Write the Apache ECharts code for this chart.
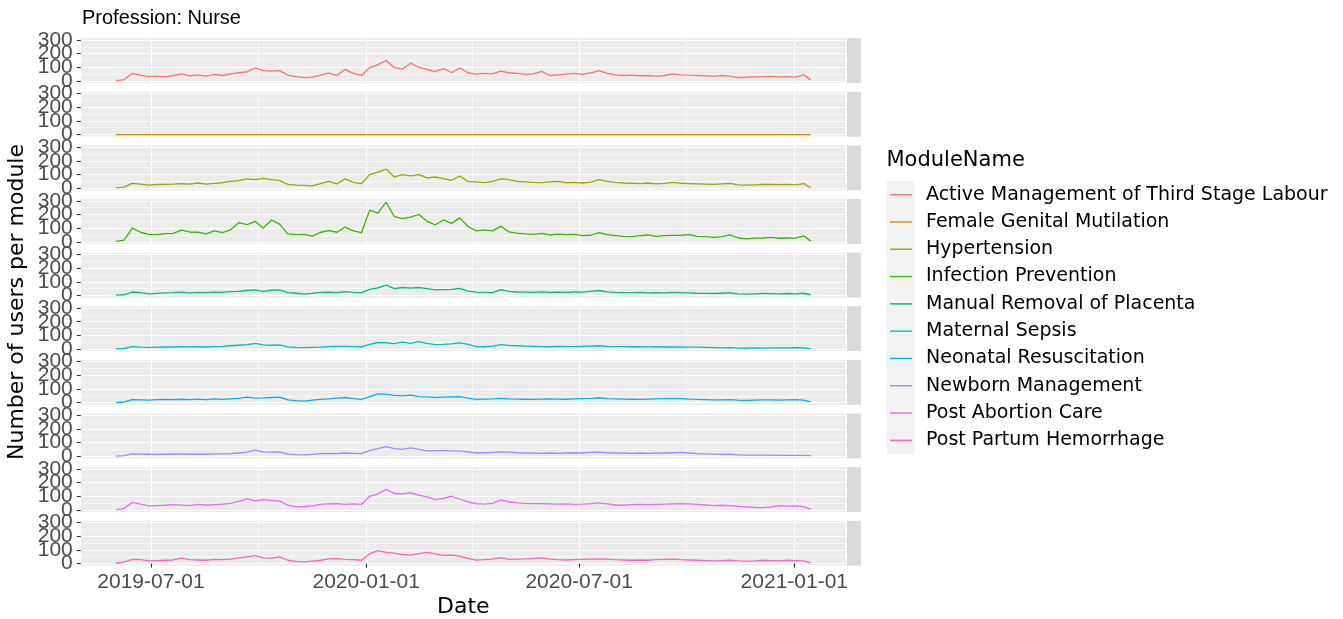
<!DOCTYPE html>
<html><head><meta charset="utf-8">
<script src="https://cdn.jsdelivr.net/npm/echarts@6/dist/echarts.min.js"></script>
<style>html,body{margin:0;padding:0;background:#fff}#c{width:1343px;height:619px}</style>
</head><body><div id="c"></div>
<script>
// ---------------- data ----------------
const moduleNames = [
  'Active Management of Third Stage Labour','Female Genital Mutilation','Hypertension',
  'Infection Prevention','Manual Removal of Placenta','Maternal Sepsis',
  'Neonatal Resuscitation','Newborn Management','Post Abortion Care','Post Partum Hemorrhage'
];
const sampleDates = [
  '2019-06-01','2019-06-08','2019-06-15','2019-06-22','2019-06-29','2019-07-06','2019-07-13','2019-07-20','2019-07-27','2019-08-03',
  '2019-08-10','2019-08-17','2019-08-24','2019-08-31','2019-09-07','2019-09-14','2019-09-21','2019-09-28','2019-10-05','2019-10-12',
  '2019-10-19','2019-10-26','2019-11-02','2019-11-09','2019-11-16','2019-11-23','2019-11-30','2019-12-07','2019-12-14','2019-12-21',
  '2019-12-28','2020-01-04','2020-01-11','2020-01-18','2020-01-25','2020-02-01','2020-02-08','2020-02-15','2020-02-22','2020-02-29',
  '2020-03-07','2020-03-14','2020-03-21','2020-03-28','2020-04-04','2020-04-11','2020-04-18','2020-04-25','2020-05-02','2020-05-09',
  '2020-05-16','2020-05-23','2020-05-30','2020-06-06','2020-06-13','2020-06-20','2020-06-27','2020-07-04','2020-07-11','2020-07-18',
  '2020-07-25','2020-08-01','2020-08-08','2020-08-15','2020-08-22','2020-08-29','2020-09-05','2020-09-12','2020-09-19','2020-09-26',
  '2020-10-03','2020-10-10','2020-10-17','2020-10-24','2020-10-31','2020-11-07','2020-11-14','2020-11-21','2020-11-28','2020-12-05',
  '2020-12-12','2020-12-19','2020-12-26','2021-01-02','2021-01-09','2021-01-15'
];
const amtsl = [3,10,55,42,32,35,30,40,52,38, 45,35,48,40,52,60,66,95,75,72, 76,42,32,25,28,42,58,40,85,55,
  40,98,120,150,98,88,130,100,85,68, 90,62,95,60,50,56,52,72,60,55, 48,52,70,40,45,50,55,48,60,75,
  55,45,40,42,38,40,36,40,52,45, 42,40,38,36,40,35,25,27,30,32, 33,30,32,28,45,8];
const fgm = [0,0,0,0,0,0,0,0,0,0, 0,0,0,0,0,0,0,0,0,0, 0,0,0,0,0,0,0,0,0,0,
  0,0,0,0,0,0,0,0,0,0, 0,0,0,0,0,0,0,0,0,0, 0,0,0,0,0,0,0,0,0,0,
  0,0,0,0,0,0,0,0,0,0, 0,0,0,0,0,0,0,0,0,0, 0,0,0,0,0,0];
const hypertension = [2,8,35,30,22,27,28,30,34,30, 38,30,35,40,50,55,68,63,72,62, 55,28,22,20,17,34,50,32,68,42,
  34,100,118,140,82,99,90,100,75,82, 70,58,88,50,46,41,50,68,62,50, 46,42,41,46,50,40,42,38,45,62,
  50,42,38,36,34,38,32,35,42,36, 34,32,30,28,32,36,24,22,25,27, 28,26,28,25,34,3];
const infectionPrev = [3,12,100,70,55,52,60,62,85,72, 70,58,80,68,88,140,125,150,100,160, 130,58,52,55,42,70,82,70,108,80,
  68,232,210,290,185,170,180,200,150,125, 160,135,175,112,80,88,80,115,72,63, 58,55,62,50,56,52,55,45,48,68,
  52,46,40,38,46,50,40,45,47,48, 52,40,38,32,38,50,28,22,27,28, 32,26,28,27,44,5];
const manualRemoval = [2,5,25,20,12,15,18,20,24,18, 22,20,24,22,28,30,36,40,30,38, 40,20,16,10,15,22,24,20,28,22,
  20,44,56,75,50,58,54,58,50,40, 42,44,52,32,24,22,20,42,30,25, 24,22,26,22,24,22,25,24,30,36,
  26,22,20,20,22,18,20,18,22,20, 18,16,15,14,16,18,12,10,12,14, 13,12,14,12,16,5];
const maternalSepsis = [1,4,18,14,12,14,16,15,18,16, 17,15,18,20,24,28,32,42,30,28, 30,16,12,10,12,14,18,20,20,18,
  17,34,48,46,40,50,42,54,42,32, 34,38,46,34,18,17,22,32,27,24, 22,20,18,17,20,18,18,20,22,24,
  20,18,18,17,18,16,17,15,16,15, 14,14,12,10,8,10,7,6,8,7, 9,8,8,10,8,2];
const neonatalResus = [1,5,22,20,18,22,24,22,25,22, 26,22,28,24,28,32,40,34,35,38, 40,20,15,12,18,24,28,34,38,30,
  24,45,65,62,54,50,55,44,42,38, 40,42,44,34,24,26,28,32,28,26, 25,24,26,28,26,25,28,30,32,36,
  30,28,26,25,24,26,28,30,32,30, 26,24,22,20,20,22,18,16,18,20, 20,18,20,22,18,5];
const newbornMgmt = [1,5,18,16,15,14,16,15,17,15, 16,15,18,17,20,24,30,45,32,30, 32,16,12,10,14,20,22,20,24,22,
  20,44,56,70,56,50,62,50,40,42, 44,40,40,32,24,26,28,32,30,26, 24,24,22,24,22,24,26,24,28,30,
  26,24,24,22,24,22,24,24,26,28, 24,20,18,16,14,15,10,8,9,8, 8,7,7,6,6,5];
const postAbortion = [1,12,55,42,30,32,34,38,35,32, 40,34,38,42,48,62,80,66,75,70, 65,35,22,25,29,40,44,46,40,44,
  41,100,118,150,120,118,124,108,95,76, 84,100,78,58,46,42,48,74,58,52, 48,46,46,44,42,44,40,42,46,52,
  44,36,34,38,40,38,40,42,44,46, 44,40,36,32,34,32,26,22,18,16, 20,32,28,30,24,5];
const postPartum = [2,12,30,28,20,22,24,26,40,28, 26,24,30,28,32,42,48,58,42,40, 48,24,16,12,18,24,34,36,30,28,
  24,72,95,82,76,66,62,72,82,70, 60,62,54,38,25,28,32,44,30,32, 34,38,42,32,28,26,28,30,32,34,
  32,28,26,24,26,24,28,30,32,28, 26,24,22,20,22,24,20,18,20,24, 22,20,24,22,20,7];
const seriesValues = [amtsl, fgm, hypertension, infectionPrev, manualRemoval, maternalSepsis,
  neonatalResus, newbornMgmt, postAbortion, postPartum];

const xMajorTicks = ['2019-07-01','2020-01-01','2020-07-01','2021-01-01'];
const xMinorTicks = ['2019-10-01','2020-04-01','2020-10-01'];
const yMajorTicks = [0, 100, 200, 300];
const yMinorTicks = [50, 150, 250];
const axisStart = '2019-05-02', axisEnd = '2021-02-14';
const colors = ['#F8766D','#D89000','#A3A500','#39B600','#00BF7D','#00BFC4','#00B0F6','#9590FF','#E76BF3','#FF62BC'];

// ---------------- axis domain (every day) ----------------
const axisDays = [];
for (let t = Date.parse(axisStart + 'T00:00:00Z'); t <= Date.parse(axisEnd + 'T00:00:00Z'); t += 86400000) {
  axisDays.push(new Date(t).toISOString().slice(0, 10));
}

// ---------------- layout ----------------
const L = 80.8, W = 765, TOP0 = 38.2, H = 44.8, STRIDE = 53.62;
const YMIN = -15, YMAX = 313;
const TICK_FONT = 'Liberation Sans';
const isMajor = (i, v) => xMajorTicks.indexOf(v) >= 0;
const isMinor = (i, v) => xMinorTicks.indexOf(v) >= 0;
// labels split over two axes so that ECharts does not drop overlapping ones
const yLabelsEven = yMajorTicks.filter((v, k) => k % 2 === 0);
const yLabelsOdd = yMajorTicks.filter((v, k) => k % 2 === 1);
const yLabelStyle = {show: true, showMinLabel: true, showMaxLabel: true, hideOverlap: false,
  fontSize: 21, fontFamily: TICK_FONT, color: '#4D4D4D', margin: 8};

const grids = [], xAxes = [], yAxes = [], series = [], graphics = [];
moduleNames.forEach((name, i) => {
  const top = TOP0 + STRIDE * i;
  const bottom = i === moduleNames.length - 1;
  grids.push({left: L, top: top, width: W, height: H, show: true, backgroundColor: '#EBEBEB', borderWidth: 0});
  xAxes.push({
    type: 'category', gridIndex: i, data: axisDays, boundaryGap: false,
    axisLine: {show: false},
    axisTick: {show: bottom, interval: isMajor, length: 4, lineStyle: {color: '#333333', width: 1.1}},
    axisLabel: {show: bottom, interval: isMajor, fontSize: 21, fontFamily: TICK_FONT, color: '#4D4D4D', margin: 6},
    splitLine: {show: true, interval: isMajor, lineStyle: {color: '#FFFFFF', width: 1.1}}
  });
  xAxes.push({
    type: 'category', gridIndex: i, data: axisDays, boundaryGap: false,
    axisLine: {show: false}, axisTick: {show: false}, axisLabel: {show: false},
    splitLine: {show: true, interval: isMinor, lineStyle: {color: '#FFFFFF', width: 0.55}}
  });
  yAxes.push({
    type: 'value', gridIndex: i, min: YMIN, max: YMAX, position: 'left',
    axisLine: {show: false},
    axisTick: {show: true, length: 4, customValues: yMajorTicks, lineStyle: {color: '#333333', width: 1.1}},
    axisLabel: Object.assign({customValues: yLabelsEven}, yLabelStyle),
    splitLine: {show: true, lineStyle: {color: '#FFFFFF', width: 1.1}}
  });
  yAxes.push({
    type: 'value', gridIndex: i, min: YMIN, max: YMAX, position: 'left',
    axisLine: {show: false},
    axisTick: {show: false, customValues: yMinorTicks},
    axisLabel: Object.assign({customValues: yLabelsOdd}, yLabelStyle),
    splitLine: {show: true, lineStyle: {color: '#FFFFFF', width: 0.55}}
  });
  series.push({
    name: name, type: 'line', xAxisIndex: 2 * i, yAxisIndex: 2 * i,
    data: sampleDates.map((d, j) => [d, seriesValues[i][j]]),
    showSymbol: false, symbol: 'none', z: 10, silent: true,
    lineStyle: {color: colors[i], width: 1.3}, itemStyle: {color: colors[i]}
  });
  graphics.push({type: 'rect', shape: {x: 847, y: top, width: 14, height: H}, style: {fill: '#D9D9D9'}, silent: true});
});

graphics.push({type: 'rect', shape: {x: 886.7, y: 181, width: 27.6, height: 273.3}, style: {fill: '#F2F2F2'}, silent: true});
graphics.push({type: 'text', x: 82, y: 18.5, style: {text: 'Profession: Nurse', font: '20px "Liberation Sans"', fill: '#000', textAlign: 'left', textVerticalAlign: 'middle'}});
graphics.push({type: 'text', x: 886.5, y: 160.5, style: {text: 'ModuleName', font: '21px "DejaVu Sans"', fill: '#000', textAlign: 'left', textVerticalAlign: 'middle'}});
graphics.push({type: 'text', x: L + W / 2, y: 607, style: {text: 'Date', font: '22px "DejaVu Sans"', fill: '#000', textAlign: 'center', textVerticalAlign: 'middle'}});
graphics.push({type: 'text', x: 17, y: 302, rotation: Math.PI / 2, style: {text: 'Number of users per module', font: '22px "DejaVu Sans"', fill: '#000', textAlign: 'center', textVerticalAlign: 'middle'}});

const chart = echarts.init(document.getElementById('c'), null, {renderer: 'canvas'});
chart.setOption({
  animation: false,
  backgroundColor: '#FFFFFF',
  grid: grids, xAxis: xAxes, yAxis: yAxes, series: series,
  legend: {
    orient: 'vertical', left: 890, top: 181, padding: 0, itemGap: 0,
    data: moduleNames, icon: 'rect', itemWidth: 22, itemHeight: 1.4, selectedMode: false,
    textStyle: {fontSize: 19, fontFamily: 'DejaVu Sans', color: '#000', lineHeight: 27.3, padding: [0, 0, 0, 9]}
  },
  graphic: {elements: graphics}
});
</script></body></html>
